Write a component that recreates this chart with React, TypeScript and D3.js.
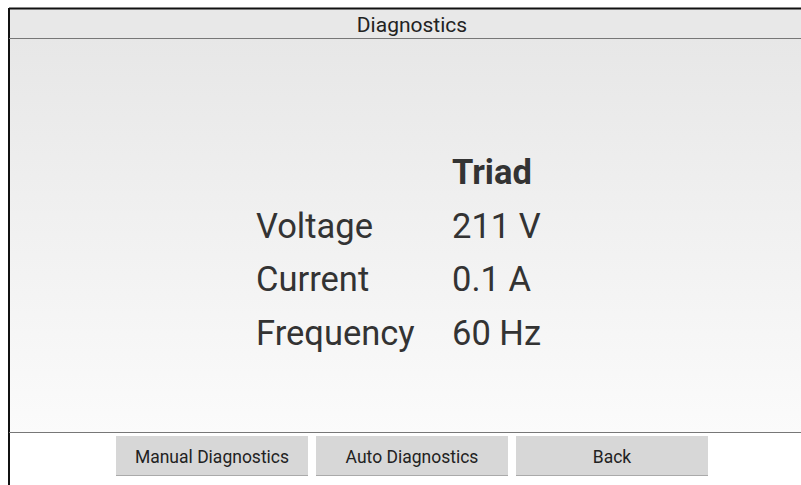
import { useEffect, useRef } from "react";
import * as d3 from "d3";

const title = "Diagnostics";
const columnHeader = "Triad";
const rowLabels = ["Voltage", "Current", "Frequency"];
const rowValues = ["211 V", "0.1 A", "60 Hz"];
const buttons = ["Manual Diagnostics", "Auto Diagnostics", "Back"];

export default function App() {
  const ref = useRef<SVGSVGElement>(null);

  useEffect(() => {
    if (!ref.current) return;
    const svg = d3.select(ref.current);
    svg.selectAll("*").remove();

    const width = 801;
    const height = 485;
    const font = "Roboto, 'Noto Sans', sans-serif";

    svg.attr("width", width).attr("height", height);

    svg.append("rect").attr("width", width).attr("height", height).attr("fill", "#ffffff");

    const defs = svg.append("defs");
    const grad = defs
      .append("linearGradient")
      .attr("id", "bg")
      .attr("x1", 0)
      .attr("y1", 0)
      .attr("x2", 0)
      .attr("y2", 1);
    grad.append("stop").attr("offset", "0%").attr("stop-color", "#e7e7e7");
    grad.append("stop").attr("offset", "100%").attr("stop-color", "#fbfbfb");

    // header band
    svg.append("rect").attr("x", 9).attr("y", 8).attr("width", width - 9).attr("height", 30).attr("fill", "#e8e8e8");
    // content area
    svg.append("rect").attr("x", 9).attr("y", 38).attr("width", width - 9).attr("height", 395).attr("fill", "url(#bg)");

    // frame lines
    svg.append("line").attr("x1", 9).attr("x2", width).attr("y1", 8.5).attr("y2", 8.5).attr("stroke", "#111").attr("stroke-width", 2);
    svg.append("line").attr("x1", 9).attr("x2", 9).attr("y1", 8).attr("y2", height).attr("stroke", "#111").attr("stroke-width", 2);
    svg.append("line").attr("x1", 9).attr("x2", width).attr("y1", 38.5).attr("y2", 38.5).attr("stroke", "#777").attr("stroke-width", 1);
    svg.append("line").attr("x1", 9).attr("x2", width).attr("y1", 432.5).attr("y2", 432.5).attr("stroke", "#777").attr("stroke-width", 1);

    svg
      .append("text")
      .attr("x", 412)
      .attr("y", 32)
      .attr("text-anchor", "middle")
      .style("font-family", font)
      .style("font-size", "21px")
      .attr("fill", "#222")
      .text(title);

    // table rows
    const y = d3
      .scalePoint<string>()
      .domain(["header", ...rowLabels])
      .range([184, 345]);

    svg
      .append("text")
      .attr("x", 452)
      .attr("y", y("header") || 0)
      .style("font-family", font)
      .style("font-size", "34.5px")
      .style("font-weight", "bold")
      .attr("fill", "#333")
      .text(columnHeader);

    svg
      .selectAll(".label")
      .data(rowLabels)
      .join("text")
      .attr("class", "label")
      .attr("x", 256)
      .attr("y", (d) => y(d) || 0)
      .style("font-family", font)
      .style("font-size", "34.5px")
      .attr("fill", "#333")
      .text((d) => d);

    svg
      .selectAll(".value")
      .data(rowValues)
      .join("text")
      .attr("class", "value")
      .attr("x", 452)
      .attr("y", (_, i) => y(rowLabels[i]) || 0)
      .style("font-family", font)
      .style("font-size", "34.5px")
      .attr("fill", "#333")
      .text((d) => d);

    // buttons
    const x = d3.scaleBand<string>().domain(buttons).range([114, 710]).paddingInner(0.04).paddingOuter(0.01);

    const btn = svg
      .selectAll(".btn")
      .data(buttons)
      .join("g")
      .attr("class", "btn")
      .attr("transform", (d) => `translate(${x(d) || 0},436)`);

    btn
      .append("rect")
      .attr("width", x.bandwidth())
      .attr("height", 40)
      .attr("fill", "#d7d7d7");
    btn
      .append("line")
      .attr("x1", 0)
      .attr("x2", x.bandwidth())
      .attr("y1", 39.5)
      .attr("y2", 39.5)
      .attr("stroke", "#aaa");

    btn
      .append("text")
      .attr("x", x.bandwidth() / 2)
      .attr("y", 27)
      .attr("text-anchor", "middle")
      .style("font-family", font)
      .style("font-size", "17.5px")
      .attr("fill", "#222")
      .text((d) => d);
  }, []);

  return (
    <div style={{ position: "absolute", left: 0, top: 0 }}>
      <svg ref={ref}></svg>
    </div>
  );
}
